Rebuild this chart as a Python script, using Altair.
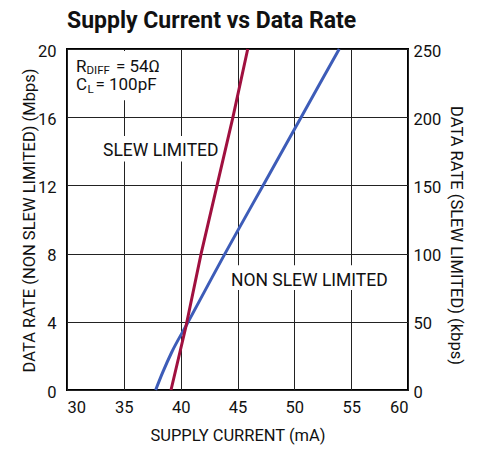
import altair as alt
import pandas as pd

FONT = "Roboto"

# Series
blue_ma = [37.8, 38.4, 39.2, 40.5, 42.2, 43.9, 44.9, 47.25, 50.6, 53.95]
blue_mbps = [0, 1.0, 2.2, 3.8, 5.9, 8, 9.2, 12, 16, 20]
red_ma = [39.15, 40.45, 41.8, 43.2, 44.6, 45.9]
red_kbps = [0, 46, 100, 150, 200, 250]

x_ticks = [30, 35, 40, 45, 50, 55, 60]
left_ticks = [0, 4, 8, 12, 16, 20]
right_ticks = [0, 50, 100, 150, 200, 250]

# Annotation texts (left-aligned, alphabetic baseline)
ann_text = ["R", "DIFF", "= 54Ω", "C", "L", "= 100pF", "SLEW LIMITED", "NON SLEW LIMITED"]
ann_ma = [30.79, 31.72, 34.3, 30.79, 31.8, 32.5, 33.17, 44.42]
ann_mbps = [18.63, 18.52, 18.63, 17.57, 17.42, 17.57, 13.71, 6.09]
ann_size = [17, 11.5, 17, 17, 11.5, 17, 17.5, 17.5]

# White label backgrounds
box_ma = [30.2, 33.0, 44.16]
box_ma2 = [39.0, 43.0, 57.5]
box_mbps = [17.0, 13.4, 5.86]
box_mbps2 = [19.88, 14.9, 7.32]

blue_df = pd.DataFrame({"ma": blue_ma, "mbps": blue_mbps})
red_df = pd.DataFrame({"ma": red_ma, "kbps": red_kbps})
ann_df = pd.DataFrame({"ma": ann_ma, "mbps": ann_mbps, "label": ann_text, "fs": ann_size})
box_df = pd.DataFrame({"ma": box_ma, "ma2": box_ma2, "mbps": box_mbps, "mbps2": box_mbps2})

X = alt.X(
    "ma:Q",
    scale=alt.Scale(domain=[30, 60], nice=False, zero=False),
    axis=alt.Axis(
        values=x_ticks, title="SUPPLY CURRENT (mA)", grid=True, ticks=False, domain=False,
        labelPadding=9, titleY=50, titleBaseline="alphabetic",
    ),
)
Y = alt.Y(
    "mbps:Q",
    scale=alt.Scale(domain=[0, 20], nice=False),
    axis=alt.Axis(
        values=left_ticks, title="DATA RATE (NON SLEW LIMITED) (Mbps)", grid=True, ticks=False,
        domain=False, orient="left", labelPadding=11, labelOffset=2,
        titleX=-38, titleY=171, titleAngle=-90, titleBaseline="middle", titleAlign="center",
    ),
)

boxes = alt.Chart(box_df).mark_rect(color="white").encode(
    x=X, x2="ma2:Q", y=Y, y2="mbps2:Q"
)
blue = alt.Chart(blue_df).mark_line(color="#3D5CB8", strokeWidth=3, interpolate="monotone").encode(
    x=X, y=Y
)
texts = alt.Chart(ann_df).mark_text(
    align="left", baseline="alphabetic", font=FONT, color="#111"
).encode(
    x=X, y=Y, text="label:N", size=alt.Size("fs:Q", scale=None, legend=None)
)

left = alt.layer(boxes, blue, texts)

red = alt.Chart(red_df).mark_line(color="#A0103F", strokeWidth=3).encode(
    x=X,
    y=alt.Y(
        "kbps:Q",
        scale=alt.Scale(domain=[0, 250], nice=False),
        axis=alt.Axis(
            values=right_ticks, title="DATA RATE (SLEW LIMITED) (kbps)", grid=False, ticks=False,
            domain=False, orient="right", labelPadding=5, labelOffset=2,
            titleX=47, titleY=186, titleAngle=90, titleBaseline="middle", titleAlign="center",
        ),
    ),
)

chart = (
    alt.layer(left, red)
    .resolve_scale(y="independent")
    .properties(
        width=341,
        height=341,
        autosize=alt.AutoSizeParams(type="none"),
        padding={"left": 59, "top": 41, "right": 66, "bottom": 60},
        title=alt.TitleParams(
            "Supply Current vs Data Rate", anchor="start", frame="group", font=FONT,
            fontSize=23, fontWeight="bold", color="#111", baseline="alphabetic", offset=14, dy=22,
        ),
    )
    .configure_view(stroke="black", strokeWidth=2)
    .configure_axis(
        labelFont=FONT, labelFontSize=16.5, labelColor="#111",
        titleFont=FONT, titleFontSize=16.5, titleFontWeight="normal", titleColor="#111",
        gridColor="#222", gridWidth=1, gridOpacity=1,
    )
)

chart.save("out.html", embed_options={"renderer": "svg", "actions": False})
